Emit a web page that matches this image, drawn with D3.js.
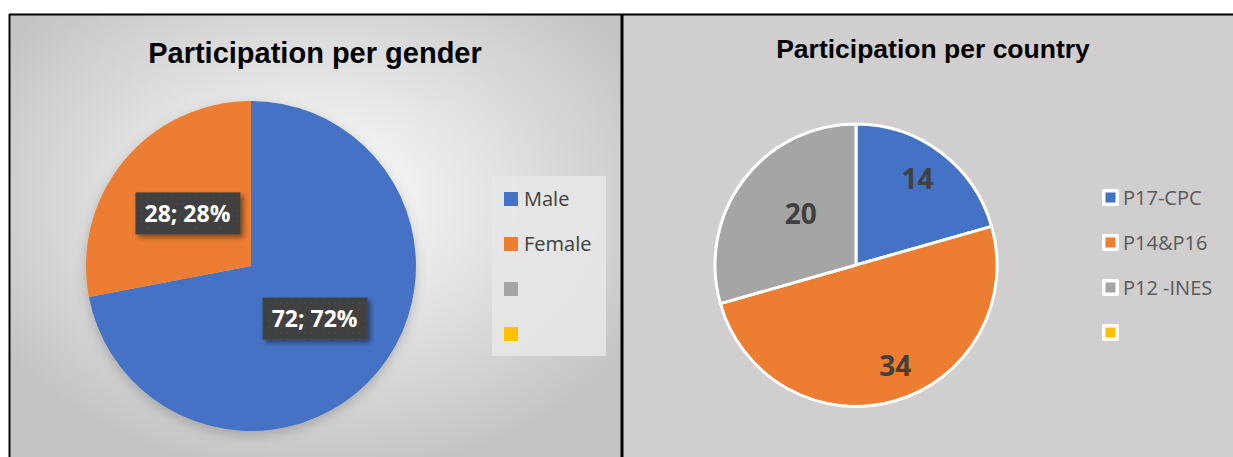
<!DOCTYPE html>
<html>
<head>
<meta charset="utf-8">
<script src="https://cdn.jsdelivr.net/npm/d3@7"></script>
<style>
  body { margin: 0; background: #fff; }
  svg { display: block; }
</style>
</head>
<body>
<div class="graph"></div>
<script>
// Data
var genderLabels = ["Male", "Female", "", ""];
var genderValues = [72, 28, 0, 0];
var countryLabels = ["P17-CPC", "P14&P16", "P12 -INES", ""];
var countryValues = [14, 34, 20, 0];
var sliceColors = ["#4472c4", "#ed7d31", "#a5a5a5", "#ffc000"];

// label nudges (best-fit placement, relative to slice centroid)
var countryLabelNudge = [[19, -30], [20, 33], [1, -9], [0, 0]];

var W = 1233, H = 457;

var svg = d3.select(".graph").append("svg")
    .attr("width", W)
    .attr("height", H);

var defs = svg.append("defs");

// left panel radial gradient
var grad = defs.append("radialGradient")
    .attr("id", "bgGrad")
    .attr("cx", "50%").attr("cy", "42%").attr("r", "62%");
grad.append("stop").attr("offset", "0%").attr("stop-color", "#ffffff");
grad.append("stop").attr("offset", "100%").attr("stop-color", "#c4c4c4");

// dotted pattern for data label boxes
var pat = defs.append("pattern")
    .attr("id", "dots")
    .attr("width", 6).attr("height", 6)
    .attr("patternUnits", "userSpaceOnUse");
pat.append("rect").attr("width", 6).attr("height", 6).attr("fill", "#404040");
pat.append("rect").attr("x", 2).attr("y", 2).attr("width", 1).attr("height", 1).attr("fill", "#555555");

var shadow = defs.append("filter").attr("id", "shadow")
    .attr("x", "-20%").attr("y", "-20%").attr("width", "150%").attr("height", "160%");
shadow.append("feDropShadow")
    .attr("dx", 3).attr("dy", 3).attr("stdDeviation", 2.5)
    .attr("flood-color", "#000").attr("flood-opacity", 0.45);

var pieShadow = defs.append("filter").attr("id", "pieShadow")
    .attr("x", "-20%").attr("y", "-20%").attr("width", "140%").attr("height", "140%");
pieShadow.append("feDropShadow")
    .attr("dx", 0).attr("dy", 4).attr("stdDeviation", 6)
    .attr("flood-color", "#000").attr("flood-opacity", 0.2);

// Panels
svg.append("rect").attr("x", 10).attr("y", 15).attr("width", 611).attr("height", H - 15)
    .attr("fill", "url(#bgGrad)");
svg.append("rect").attr("x", 623).attr("y", 15).attr("width", W - 623).attr("height", H - 15)
    .attr("fill", "#d0cece");

// borders
svg.append("line").attr("x1", 9).attr("x2", W).attr("y1", 14.5).attr("y2", 14.5)
    .attr("stroke", "#000").attr("stroke-width", 2);
svg.append("line").attr("x1", 9.5).attr("x2", 9.5).attr("y1", 14).attr("y2", H)
    .attr("stroke", "#000").attr("stroke-width", 2);
svg.append("line").attr("x1", 622).attr("x2", 622).attr("y1", 14).attr("y2", H)
    .attr("stroke", "#000").attr("stroke-width", 3);

// Titles
svg.append("text").attr("x", 315).attr("y", 63)
    .attr("text-anchor", "middle")
    .style("font-family", "'Liberation Sans', Arial, sans-serif")
    .style("font-weight", "bold").style("font-size", "29px")
    .text("Participation per gender");
svg.append("text").attr("x", 933).attr("y", 58)
    .attr("text-anchor", "middle")
    .style("font-family", "'Liberation Sans', Arial, sans-serif")
    .style("font-weight", "bold").style("font-size", "26.5px")
    .text("Participation per country");

var pie = d3.pie().sort(null);

// ---- Left pie: gender ----
var gData = genderLabels.map(function(d, i) { return {label: d, value: genderValues[i], color: sliceColors[i]}; });
var gPie = pie.value(function(d) { return d.value; })(gData);
var gArc = d3.arc().innerRadius(0).outerRadius(165);
var gTotal = d3.sum(genderValues);

var g1 = svg.append("g").attr("transform", "translate(251,266)");
g1.append("g").attr("filter", "url(#pieShadow)")
  .selectAll("path")
  .data(gPie.filter(function(d) { return d.value > 0; }))
  .enter().append("path")
    .attr("d", gArc)
    .attr("fill", function(d) { return d.data.color; });

var gLabels = g1.selectAll(".glabel")
  .data(gPie.filter(function(d) { return d.value > 0; }))
  .enter().append("g")
    .attr("class", "glabel")
    .attr("transform", function(d) {
      var c = gArc.centroid(d);
      return "translate(" + c[0] + "," + c[1] + ")";
    });
gLabels.append("rect")
    .attr("x", -52).attr("y", -21).attr("width", 105).attr("height", 42)
    .attr("fill", "url(#dots)")
    .attr("filter", "url(#shadow)");
gLabels.append("text")
    .attr("text-anchor", "middle").attr("dy", "0.36em")
    .style("font-family", "'Open Sans', sans-serif")
    .style("font-weight", "bold").style("font-size", "23px")
    .attr("fill", "#fff")
    .text(function(d) { return d.value + "; " + Math.round(d.value / gTotal * 100) + "%"; });

// legend left
svg.append("rect").attr("x", 492).attr("y", 176).attr("width", 114).attr("height", 180)
    .attr("fill", "#e8e8e8").attr("opacity", 0.85);
var gLeg = svg.selectAll(".gleg").data(gData).enter().append("g")
    .attr("class", "gleg")
    .attr("transform", function(d, i) { return "translate(504," + (192 + i * 45) + ")"; });
gLeg.append("rect").attr("width", 14).attr("height", 14)
    .attr("fill", function(d) { return d.color; });
gLeg.append("text").attr("x", 20).attr("y", 7).attr("dy", "0.36em")
    .style("font-family", "'Open Sans', sans-serif").style("font-size", "20px")
    .attr("fill", "#404040")
    .text(function(d) { return d.label; });

// ---- Right pie: country ----
var cData = countryLabels.map(function(d, i) { return {label: d, value: countryValues[i], color: sliceColors[i], nudge: countryLabelNudge[i]}; });
var cPie = pie.value(function(d) { return d.value; })(cData);
var cArc = d3.arc().innerRadius(0).outerRadius(141);

var g2 = svg.append("g").attr("transform", "translate(856,265)");
g2.selectAll("path")
  .data(cPie.filter(function(d) { return d.value > 0; }))
  .enter().append("path")
    .attr("d", cArc)
    .attr("fill", function(d) { return d.data.color; })
    .attr("stroke", "#fff").attr("stroke-width", 3)
    .attr("stroke-linejoin", "round");

g2.selectAll(".clabel")
  .data(cPie.filter(function(d) { return d.value > 0; }))
  .enter().append("text")
    .attr("class", "clabel")
    .attr("transform", function(d) {
      var c = cArc.centroid(d);
      return "translate(" + (c[0] + d.data.nudge[0]) + "," + (c[1] + d.data.nudge[1]) + ")";
    })
    .attr("text-anchor", "middle").attr("dy", "0.36em")
    .style("font-family", "'Open Sans', sans-serif")
    .style("font-weight", "bold").style("font-size", "28px")
    .attr("fill", "#404040")
    .text(function(d) { return d.value; });

// legend right
var cLeg = svg.selectAll(".cleg").data(cData).enter().append("g")
    .attr("class", "cleg")
    .attr("transform", function(d, i) { return "translate(1102," + (189 + i * 45) + ")"; });
cLeg.append("rect").attr("width", 17).attr("height", 17).attr("rx", 2)
    .attr("fill", "#fff");
cLeg.append("rect").attr("x", 3.5).attr("y", 3.5).attr("width", 10).attr("height", 10)
    .attr("fill", function(d) { return d.color; });
cLeg.append("text").attr("x", 21).attr("y", 9).attr("dy", "0.36em")
    .style("font-family", "'Open Sans', sans-serif").style("font-size", "20px")
    .attr("fill", "#595959")
    .text(function(d) { return d.label; });
</script>
</body>
</html>
